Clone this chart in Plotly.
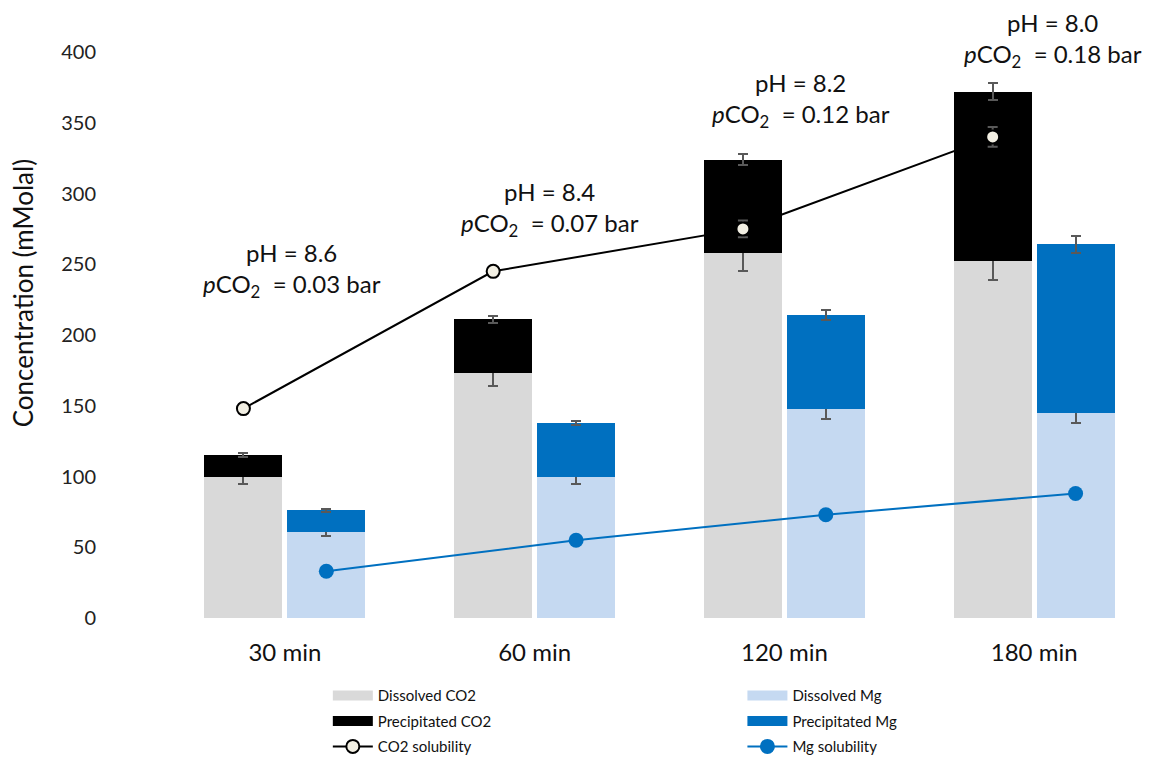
import plotly.graph_objects as go

# ---------------- data ----------------
categories = ["30 min", "60 min", "120 min", "180 min"]

dissolved_co2 = [100, 173, 258, 252]
dissolved_co2_err = [5, 9, 13, 13]
precipitated_co2 = [15, 38, 66, 120]
precipitated_co2_err = [1.5, 2.5, 4, 6]
co2_solubility = [148, 245, 275, 340]
co2_solubility_err = [1, 3, 6, 7]

dissolved_mg = [61, 100, 148, 145]
dissolved_mg_err = [3, 5, 7.5, 7.5]
precipitated_mg = [15, 38, 66, 119]
precipitated_mg_err = [1, 1.5, 3.5, 6]
mg_solubility = [33, 55, 73, 88]

ph_labels = ["8.6", "8.4", "8.2", "8.0"]
pco2_labels = ["0.03", "0.07", "0.12", "0.18"]

# ---------------- layout helpers ----------------
FONT = "Lato, 'Open Sans', sans-serif"
ERR_COLOR = "#595959"
C_DCO2, C_PCO2, C_DMG, C_PMG = "#D9D9D9", "#000000", "#C5D9F1", "#0070C0"
idx = list(range(len(categories)))
shift = 0.166
barw = 0.312
co2_x = [i - shift for i in idx]
mg_x = [i + shift for i in idx]


def err(vals):
    return dict(type="data", array=vals, visible=True, color=ERR_COLOR,
                thickness=2, width=5)


fig = go.Figure()

fig.add_trace(go.Bar(x=co2_x, y=dissolved_co2, width=barw, name="Dissolved CO2",
                     marker=dict(color=C_DCO2, line=dict(width=0)),
                     error_y=err(dissolved_co2_err), showlegend=False))
fig.add_trace(go.Bar(x=co2_x, y=precipitated_co2, width=barw, name="Precipitated CO2",
                     marker=dict(color=C_PCO2, line=dict(width=0)),
                     error_y=err(precipitated_co2_err), showlegend=False))
fig.add_trace(go.Bar(x=mg_x, y=dissolved_mg, width=barw, name="Dissolved Mg",
                     marker=dict(color=C_DMG, line=dict(width=0)),
                     error_y=err(dissolved_mg_err), showlegend=False))
fig.add_trace(go.Bar(x=mg_x, y=precipitated_mg, width=barw, name="Precipitated Mg",
                     marker=dict(color=C_PMG, line=dict(width=0)),
                     error_y=err(precipitated_mg_err), showlegend=False))

# legend swatches for the bar series (wide rectangles like the original)
for name, col, lg in [("Dissolved CO2", C_DCO2, "legend"),
                      ("Precipitated CO2", C_PCO2, "legend"),
                      ("Dissolved Mg", C_DMG, "legend2"),
                      ("Precipitated Mg", C_PMG, "legend2")]:
    fig.add_trace(go.Scatter(x=[None], y=[None], mode="lines", name=name,
                             line=dict(color=col, width=12), legend=lg,
                             legendgroup=name, hoverinfo="skip"))

fig.add_trace(go.Scatter(x=co2_x, y=co2_solubility, mode="lines+markers",
                         name="CO2 solubility", legendgroup="co2sol",
                         line=dict(color="#000000", width=2),
                         marker=dict(size=13, color="#F2EFE3",
                                     line=dict(color="#000000", width=2)),
                         error_y=err(co2_solubility_err), legend="legend",
                         cliponaxis=False))
fig.add_trace(go.Scatter(x=mg_x, y=mg_solubility, mode="lines+markers",
                         name="Mg solubility", legendgroup="mgsol",
                         line=dict(color="#0070C0", width=2),
                         marker=dict(size=15, color="#0070C0"),
                         legend="legend2", cliponaxis=False))

# annotations (pH / pCO2) above each group
ann_x = [0.03, 1.063, 2.065, 3.075]
ann_y = [0.614, 0.723, 0.916, 1.022]
for xi, yi, ph, pc in zip(ann_x, ann_y, ph_labels, pco2_labels):
    fig.add_annotation(x=xi, y=yi, xref="x", yref="paper", showarrow=False,
                       text=f"pH = {ph}<br><i>p</i>CO<sub>2</sub>  = {pc} bar",
                       font=dict(family=FONT, size=24, color="#111111"),
                       align="center", yanchor="middle")

# y-axis title (placed as in the original, above the plot's vertical centre)
fig.add_annotation(x=-0.137, y=0.574, xref="paper", yref="paper",
                   showarrow=False, textangle=-90, xanchor="center",
                   yanchor="middle", text="Concentration (mMolal)",
                   font=dict(family=FONT, size=26, color="#111111"))

legend_common = dict(yanchor="top", xanchor="left", orientation="v",
                     font=dict(size=15, color="#111111"), traceorder="grouped",
                     tracegroupgap=3, itemwidth=40, bgcolor="rgba(0,0,0,0)")

fig.update_layout(
    width=1164, height=767,
    margin=dict(l=152, r=13, t=44, b=150),
    paper_bgcolor="white", plot_bgcolor="white",
    barmode="stack",
    font=dict(family=FONT, color="#222222"),
    xaxis=dict(range=[-0.5, 3.5], tickvals=idx, ticktext=categories,
               showgrid=False, zeroline=False, showline=False, ticks="",
               automargin=False,
               tickfont=dict(size=24, color="#111111"), ticklabelstandoff=18),
    yaxis=dict(range=[0, 400], dtick=50, showgrid=False, zeroline=False,
               showline=False, ticks="", automargin=False,
               tickfont=dict(size=20, color="#222222"),
               ticklabelstandoff=63),
    legend=dict(x=0.168, y=-0.108, **legend_common),
    legend2=dict(x=0.583, y=-0.108, **legend_common),
    showlegend=True,
)

fig.write_html("out.html")
